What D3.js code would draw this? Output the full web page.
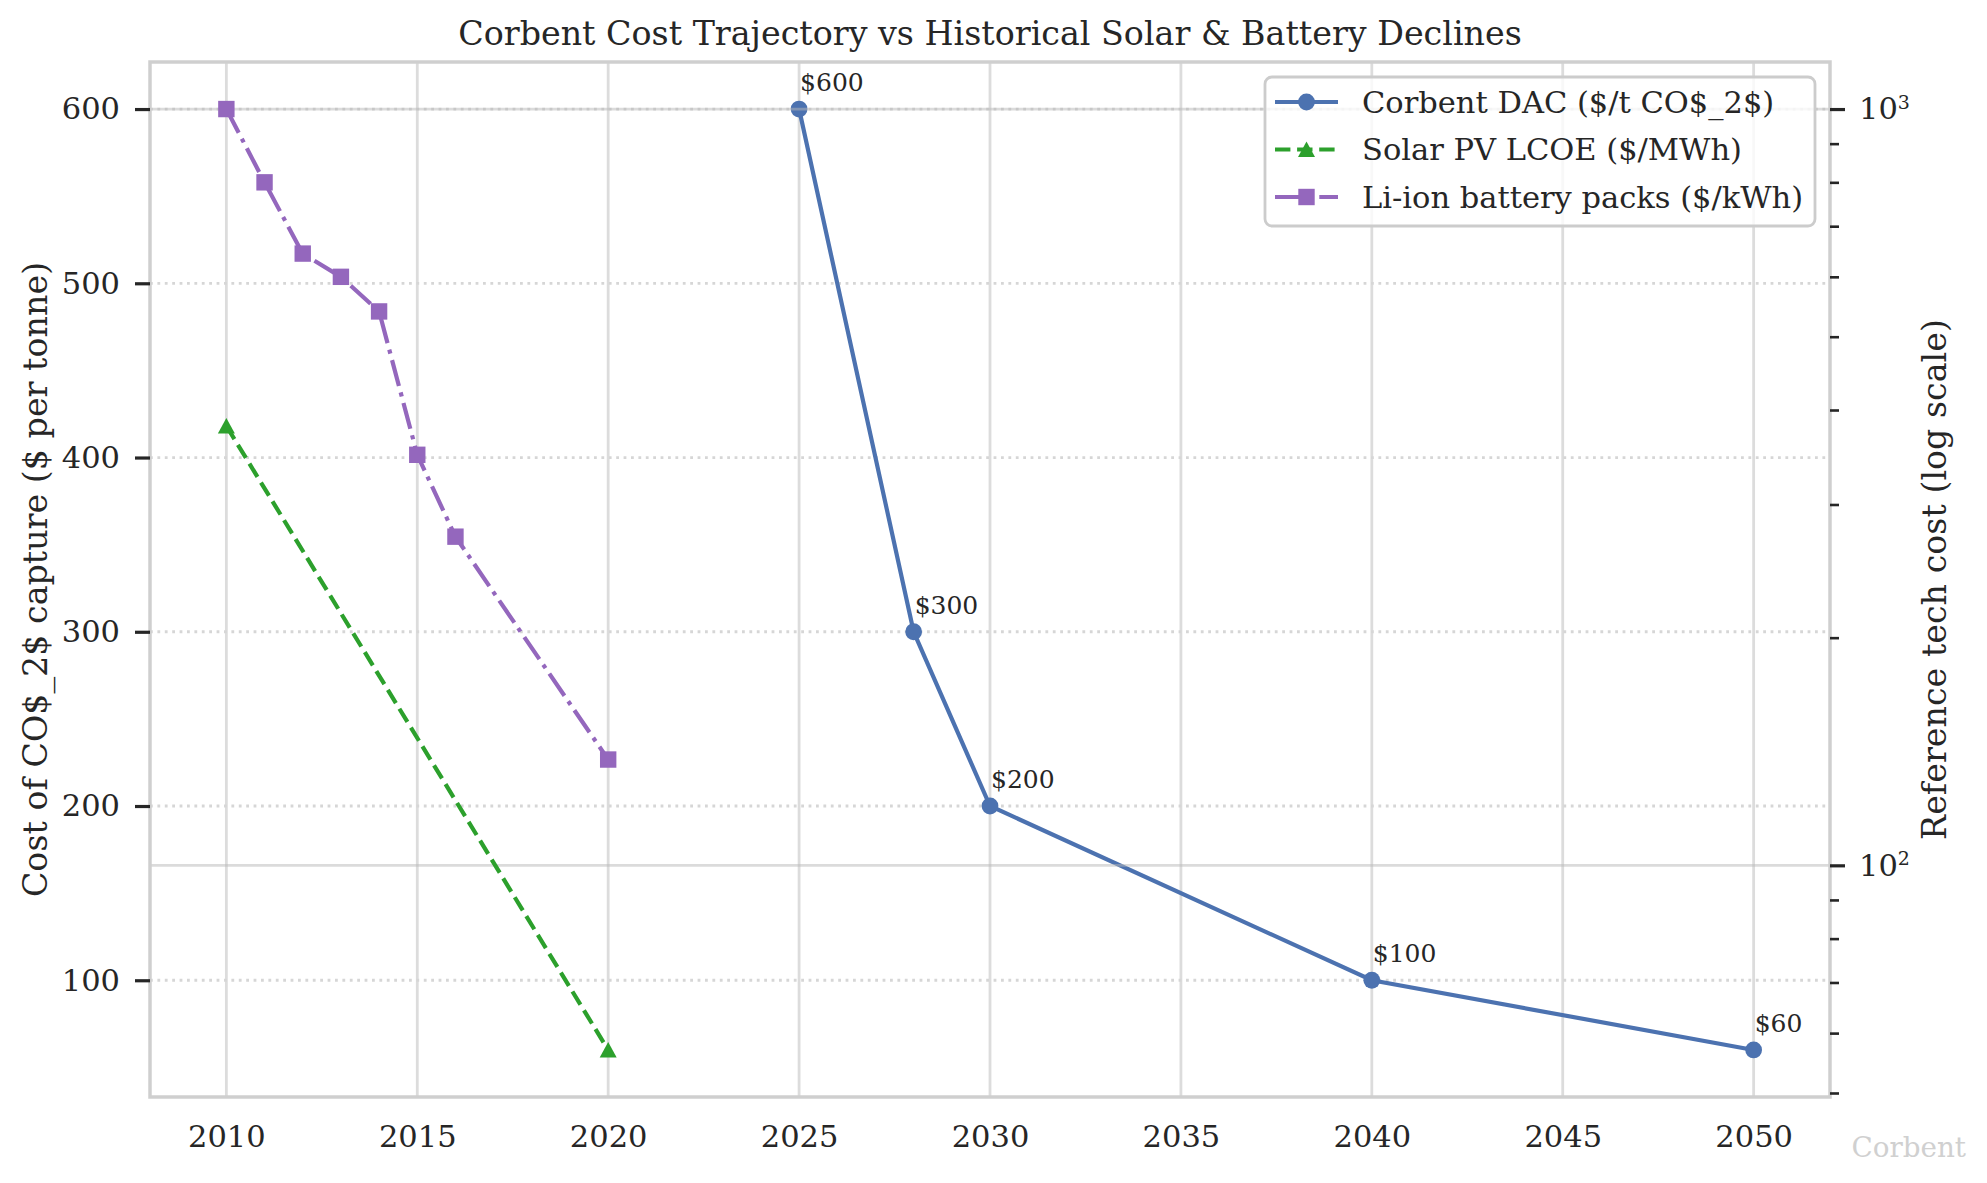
<!DOCTYPE html>
<html>
<head>
<meta charset="utf-8">
<script src="https://cdnjs.cloudflare.com/ajax/libs/d3/7.8.5/d3.min.js"></script>
<style>
body { margin: 0; background: #fff; }
svg text { font-family: "DejaVu Serif", serif; fill: #262626; }
</style>
</head>
<body>
<div class="cost-chart"></div>
<script>
// values
var corbent_years = [2025, 2028, 2030, 2040, 2050];
var corbent_cost = [600, 300, 200, 100, 60];
var solar_years = [2010, 2020];
var solar_lcoe = [381, 57];
var battery_years = [2010, 2011, 2012, 2013, 2014, 2015, 2016, 2020];
var battery_cost = [1000, 800, 644, 600, 540, 349, 272, 138];

var x_ticks = [2010, 2015, 2020, 2025, 2030, 2035, 2040, 2045, 2050];
var left_ticks = [100, 200, 300, 400, 500, 600];
var right_major_ticks = [100, 1000];
var right_minor_ticks = [50, 60, 70, 80, 90, 200, 300, 400, 500, 600, 700, 800, 900];
var series_labels = ["Corbent DAC ($/t CO$_2$)", "Solar PV LCOE ($/MWh)", "Li-ion battery packs ($/kWh)"];

var CostChart = function(config){
	this.container_selector = config.container_selector;
	this.width = 1987;
	this.height = 1183;
	this.left = 150;
	this.right = 1830;
	this.top = 62;
	this.bottom = 1097;
	this.colors = {corbent: "#4c72b0", solar: "#2ca02c", battery: "#9467bd"};
	this.init();
}

CostChart.prototype.init = function(){
	var self = this;
	self.svg = d3.select(self.container_selector)
		.append("svg")
		.attr("width", self.width)
		.attr("height", self.height);

	// same 5% padding matplotlib puts round the data
	var all_years = corbent_years.concat(solar_years, battery_years);
	var xr = d3.extent(all_years), xpad = (xr[1] - xr[0]) * 0.05;
	self.x = d3.scaleLinear().domain([xr[0] - xpad, xr[1] + xpad]).range([self.left, self.right]);

	var yr = d3.extent(corbent_cost), ypad = (yr[1] - yr[0]) * 0.05;
	self.yLeft = d3.scaleLinear().domain([yr[0] - ypad, yr[1] + ypad]).range([self.bottom, self.top]);

	var lr = d3.extent(solar_lcoe.concat(battery_cost)).map(Math.log10);
	var lpad = (lr[1] - lr[0]) * 0.05;
	self.yRight = d3.scaleLog()
		.domain([Math.pow(10, lr[0] - lpad), Math.pow(10, lr[1] + lpad)])
		.range([self.bottom, self.top]);
}

CostChart.prototype.marker = function(g, shape, color, cx, cy){
	if(shape == "circle"){
		g.append("circle").attr("cx", cx).attr("cy", cy).attr("r", 8.4).attr("fill", color);
	}else if(shape == "square"){
		g.append("rect").attr("x", cx - 8.2).attr("y", cy - 8.2).attr("width", 16.4).attr("height", 16.4).attr("fill", color);
	}else{
		g.append("path")
			.attr("d", "M" + cx + "," + (cy - 8) + "L" + (cx - 8.5) + "," + (cy + 7.5) + "L" + (cx + 8.5) + "," + (cy + 7.5) + "Z")
			.attr("fill", color);
	}
}

CostChart.prototype.series = function(years, values, yScale, color, dash, shape){
	var self = this;
	var pts = years.map(function(y, i){ return [self.x(y), yScale(values[i])]; });
	var g = self.svg.append("g").classed("series", true);
	g.append("path")
		.attr("d", d3.line()(pts))
		.attr("fill", "none")
		.attr("stroke", color)
		.attr("stroke-width", 4.2)
		.attr("stroke-dasharray", dash);
	pts.forEach(function(p){
		self.marker(g, shape, color, p[0], p[1]);
	});
	return pts;
}

CostChart.prototype.render = function(){
	var self = this;
	var svg = self.svg;

	// vertical grid
	svg.append("g").selectAll("line")
		.data(x_ticks).enter().append("line")
		.attr("x1", function(d){ return self.x(d); })
		.attr("x2", function(d){ return self.x(d); })
		.attr("y1", self.top).attr("y2", self.bottom)
		.attr("stroke", "#dcdcdc").attr("stroke-width", 2.8);

	// dotted grid of the left axis
	svg.append("g").selectAll("line")
		.data(left_ticks).enter().append("line")
		.attr("x1", self.left).attr("x2", self.right)
		.attr("y1", function(d){ return self.yLeft(d); })
		.attr("y2", function(d){ return self.yLeft(d); })
		.attr("stroke", "#d6d6d6").attr("stroke-width", 2.8)
		.attr("stroke-dasharray", "2.8,4.6");

	var corbent_pts = self.series(corbent_years, corbent_cost, self.yLeft, self.colors.corbent, null, "circle");
	svg.append("g").selectAll("text")
		.data(corbent_pts).enter().append("text")
		.attr("x", function(d){ return d[0] + 1; })
		.attr("y", function(d){ return d[1] - 18; })
		.style("font-size", "25px")
		.text(function(d, i){ return "$" + corbent_cost[i]; });

	// grid of the log axis sits on top of the first axes
	svg.append("g").selectAll("line")
		.data(right_major_ticks).enter().append("line")
		.attr("x1", self.left).attr("x2", self.right)
		.attr("y1", function(d){ return self.yRight(d); })
		.attr("y2", function(d){ return self.yRight(d); })
		.attr("stroke", "#b8b8b8").attr("stroke-opacity", 0.5).attr("stroke-width", 2.8);

	self.series(solar_years, solar_lcoe, self.yRight, self.colors.solar, "15.4,6.7", "triangle");
	self.series(battery_years, battery_cost, self.yRight, self.colors.battery, "26.7,6.7,4.2,6.7", "square");

	// spines
	svg.append("rect")
		.attr("x", self.left).attr("y", self.top)
		.attr("width", self.right - self.left).attr("height", self.bottom - self.top)
		.attr("fill", "none").attr("stroke", "#cfcfcf").attr("stroke-width", 3.5);

	var xAxis = svg.append("g")
		.attr("transform", "translate(0," + self.bottom + ")")
		.call(d3.axisBottom(self.x).tickValues(x_ticks).tickSize(0).tickPadding(28).tickFormat(d3.format("d")));

	var yAxis = svg.append("g")
		.attr("transform", "translate(" + self.left + ",0)")
		.call(d3.axisLeft(self.yLeft).tickValues(left_ticks).tickSize(15).tickPadding(15));

	var rMinor = svg.append("g")
		.attr("transform", "translate(" + self.right + ",0)")
		.call(d3.axisRight(self.yRight).tickValues(right_minor_ticks).tickSize(9).tickFormat(""));

	var rMajor = svg.append("g")
		.attr("transform", "translate(" + self.right + ",0)")
		.call(d3.axisRight(self.yRight).tickValues(right_major_ticks).tickSize(15).tickPadding(14).tickFormat(""));

	[xAxis, yAxis, rMinor, rMajor].forEach(function(a){
		a.select(".domain").remove();
		a.selectAll(".tick line").attr("stroke", "#262626").attr("stroke-width", 3.2);
		a.selectAll(".tick text").attr("fill", "#262626").style("font-family", "DejaVu Serif").style("font-size", "30.5px");
	});
	rMinor.selectAll(".tick line").attr("stroke-width", 2.6);

	rMajor.selectAll(".tick text").each(function(d){
		var t = d3.select(this);
		t.append("tspan").text("10");
		t.append("tspan").attr("dy", "-0.55em").style("font-size", "19px").text(Math.round(Math.log10(d)));
	});

	// legend
	var lg = svg.append("g").attr("transform", "translate(1265,77)");
	lg.append("rect")
		.attr("width", 550).attr("height", 149).attr("rx", 7)
		.attr("fill", "#fff").attr("fill-opacity", 0.8)
		.attr("stroke", "#cccccc").attr("stroke-width", 2.8);
	var entries = [
		{color: self.colors.corbent, dash: null, shape: "circle"},
		{color: self.colors.solar, dash: "15.4,6.7", shape: "triangle"},
		{color: self.colors.battery, dash: "26.7,6.7,4.2,6.7", shape: "square"}
	];
	entries.forEach(function(e, i){
		var cy = 25 + i * 47.5;
		var row = lg.append("g");
		row.append("line")
			.attr("x1", 10).attr("x2", 73).attr("y1", cy).attr("y2", cy)
			.attr("stroke", e.color).attr("stroke-width", 4.2)
			.attr("stroke-dasharray", e.dash);
		self.marker(row, e.shape, e.color, 41.5, cy);
		row.append("text")
			.attr("x", 97).attr("y", cy + 10.5)
			.style("font-size", "30.5px")
			.text(series_labels[i]);
	});

	svg.append("text")
		.attr("x", (self.left + self.right) / 2).attr("y", 45)
		.attr("text-anchor", "middle")
		.style("font-size", "33.3px")
		.text("Corbent Cost Trajectory vs Historical Solar & Battery Declines");

	svg.append("text")
		.attr("transform", "translate(47," + ((self.top + self.bottom) / 2) + ") rotate(-90)")
		.attr("text-anchor", "middle")
		.style("font-size", "33.3px")
		.text("Cost of CO$_2$ capture ($ per tonne)");

	svg.append("text")
		.attr("transform", "translate(1946," + ((self.top + self.bottom) / 2) + ") rotate(-90)")
		.attr("text-anchor", "middle")
		.style("font-size", "33.3px")
		.text("Reference tech cost (log scale)");

	svg.append("text")
		.attr("x", 1966).attr("y", 1157)
		.attr("text-anchor", "end")
		.style("font-size", "27.8px")
		.style("fill", "#d0d0d0")
		.text("Corbent");
}

var chart = new CostChart({container_selector: "div.cost-chart"});
chart.render();
</script>
</body>
</html>
